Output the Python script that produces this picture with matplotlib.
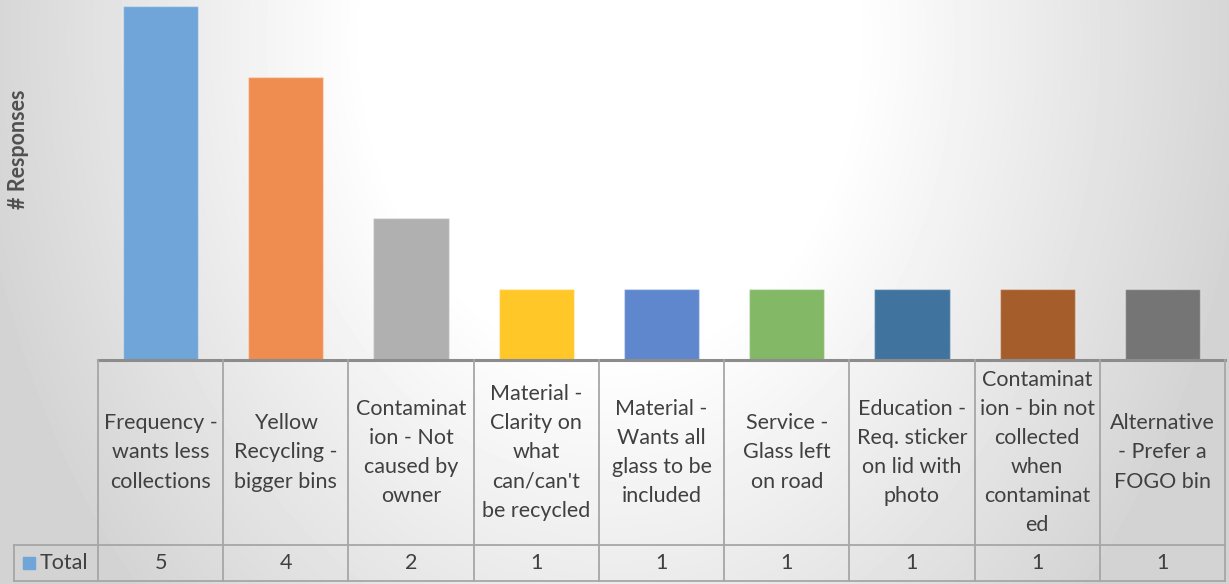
import numpy as np
import matplotlib.pyplot as plt
from matplotlib.transforms import blended_transform_factory

# categories and counts
categories = [
    "Frequency -\nwants less\ncollections",
    "Yellow\nRecycling -\nbigger bins",
    "Contaminat\nion - Not\ncaused by\nowner",
    "Material -\nClarity on\nwhat\ncan/can't\nbe recycled",
    "Material -\nWants all\nglass to be\nincluded",
    "Service -\nGlass left\non road",
    "Education -\nReq. sticker\non lid with\nphoto",
    "Contaminat\nion - bin not\ncollected\nwhen\ncontaminat\ned",
    "Alternative\n- Prefer a\nFOGO bin",
]
counts = [5, 4, 2, 1, 1, 1, 1, 1, 1]
series_name = "Total"
colors = ["#6fa5d8", "#ee8d4f", "#b0b0b0", "#ffc728", "#5f87cd",
          "#82b866", "#41739f", "#a65d2c", "#757575"]

W, H = 1229, 584
plt.rcParams['font.family'] = ['Lato', 'DejaVu Sans']
txt = "#404040"
grid_col = "#a6a6a6"
fs = 15.5

fig = plt.figure(figsize=(W / 100, H / 100), dpi=100)

# radial grey background with a white centre
bg = fig.add_axes([0, 0, 1, 1], zorder=0)
yy, xx = np.mgrid[0:H, 0:W]
d = np.sqrt(((xx - 610) / 640.0) ** 2 + ((yy - 40) / 820.0) ** 2)
t = np.clip((d - 0.38) / 0.62, 0, 1)
shade = 1.0 - 0.17 * t
bg.imshow(shade, cmap='gray', vmin=0, vmax=1, aspect='auto', extent=[0, W, H, 0])
bg.set_axis_off()

# plot area in pixel terms
left, right, base = 98, 1225, 360
ax = fig.add_axes([left / W, (H - base) / H, (right - left) / W, base / H], zorder=1)
ax.patch.set_alpha(0)
n = len(counts)
x = np.arange(n)
ax.bar(x, counts, width=0.6, color=colors, edgecolor=[(1, 1, 1, 0.35)] * n, linewidth=1)
ax.set_xlim(-0.5, n - 0.5)
ax.set_ylim(0, 5.08)
ax.set_xticks([])
ax.set_yticks([])
for s in ax.spines.values():
    s.set_visible(False)

# data table below the bars
tr = blended_transform_factory(ax.transData, ax.transAxes)
px = 1.0 / base  # one pixel in axes fraction (vertical)
row1 = -(545 - base) * px
row2 = -(581 - base) * px
leg_left = -0.5 - (left - 14) / ((right - left) / n)

ax.plot([-0.5, n - 0.5], [0, 0], transform=tr, color="#8c8c8c", lw=2.2, clip_on=False)
for b in np.arange(n + 1) - 0.5:
    ax.plot([b, b], [0, row2], transform=tr, color=grid_col, lw=1.3, clip_on=False)
ax.plot([leg_left, leg_left], [row1, row2], transform=tr, color=grid_col, lw=1.3, clip_on=False)
for yv in (row1, row2):
    ax.plot([leg_left, n - 0.5], [yv, yv], transform=tr, color=grid_col, lw=1.3, clip_on=False)

head_mid = (0 + row1) / 2
val_mid = (row1 + row2) / 2
for i in range(n):
    ax.text(i, head_mid, categories[i], transform=tr, ha='center', va='center',
            fontsize=fs, color=txt, linespacing=1.57, clip_on=False)
    ax.text(i, val_mid, str(counts[i]), transform=tr, ha='center', va='center',
            fontsize=fs, color=txt, clip_on=False)

# legend key in the table row
fig.patches.append(plt.Rectangle((23 / W, (H - 569) / H), 12 / W, 12 / H,
                                 transform=fig.transFigure, color=colors[0], zorder=3))
fig.text(40 / W, (H - 563) / H, series_name, ha='left', va='center',
         fontsize=fs, color=txt, zorder=3)

fig.text(19 / W, (H - 149) / H, "# Responses", rotation=90, ha='center', va='center',
         fontsize=15.5, fontweight='bold', color="#505050", zorder=3)

fig.savefig("out.png", dpi=100)
